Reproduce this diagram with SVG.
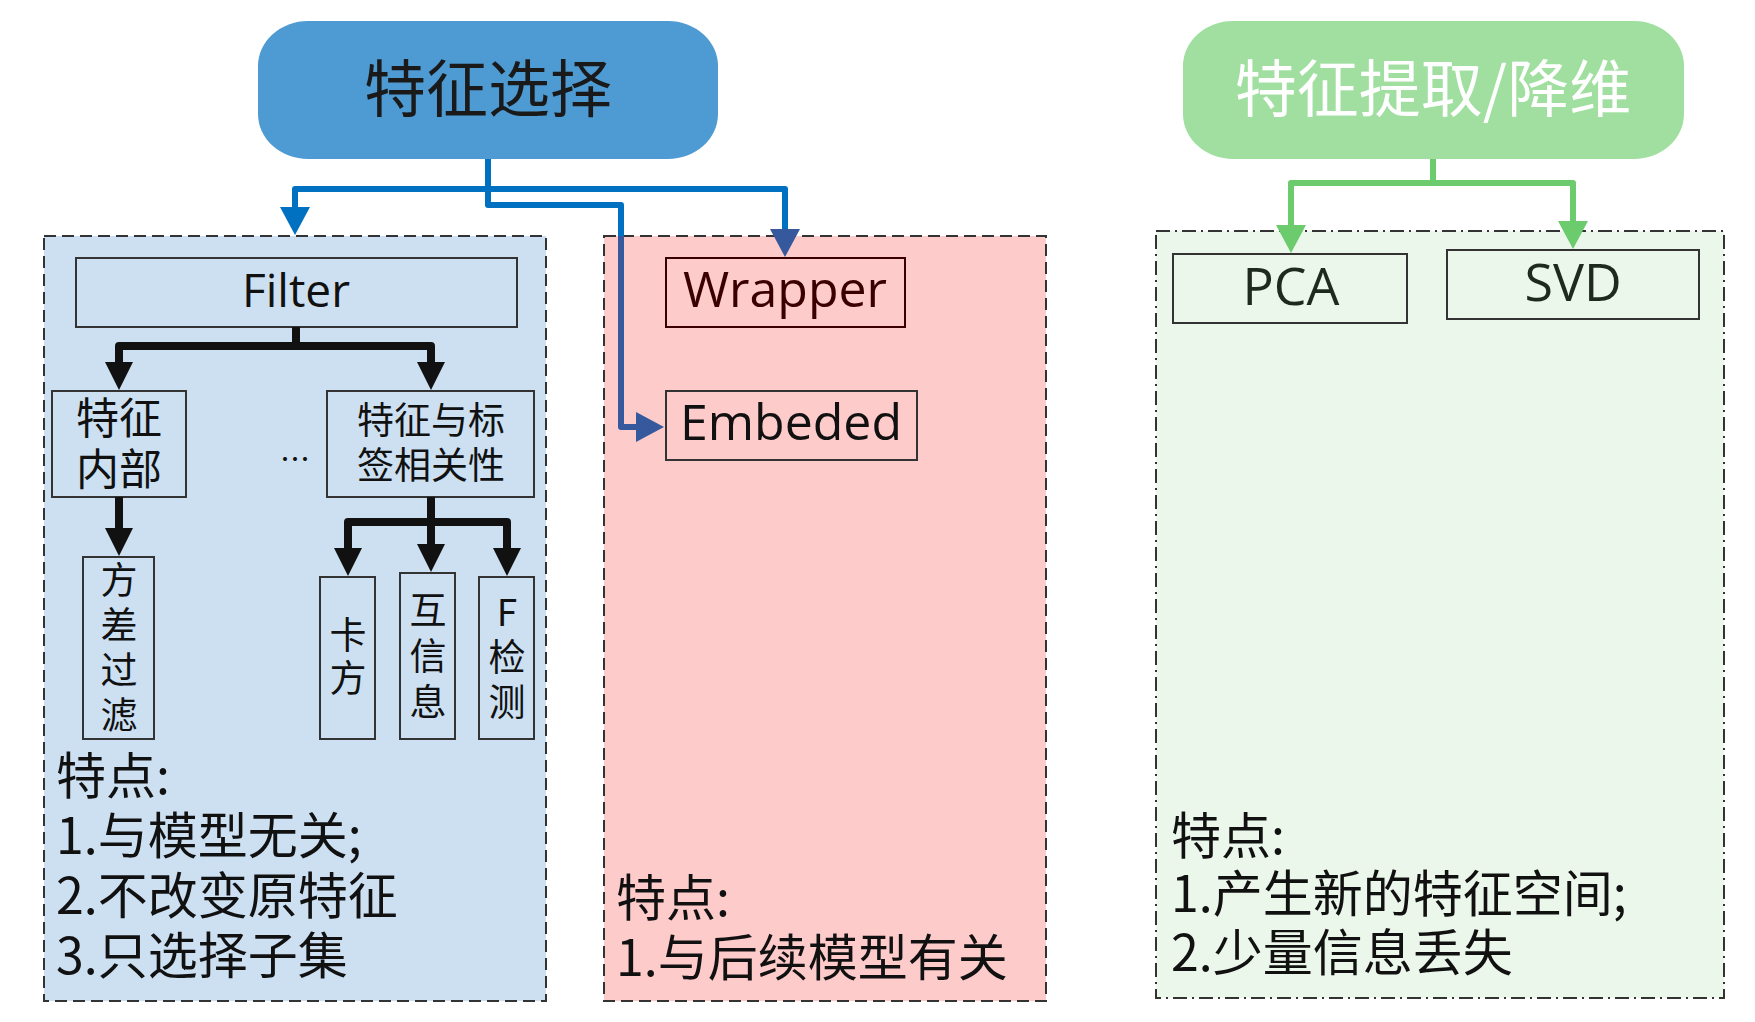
<svg xmlns="http://www.w3.org/2000/svg" width="1755" height="1022" viewBox="0 0 1755 1022">
<style>
.cjk{font-family:"Noto Sans CJK SC","Noto Sans",sans-serif;}
.lat{font-family:"Open Sans","Noto Sans","Noto Sans CJK SC",sans-serif;}
.vt{font-family:"Noto Sans CJK SC","Noto Sans",sans-serif;font-size:37px;fill:#111;writing-mode:vertical-rl;text-orientation:upright;}
.box{stroke:#333;stroke-width:2;}
.note{font-family:"Noto Sans CJK SC","Noto Sans",sans-serif;font-size:50px;fill:#111;}
.blk{fill:none;stroke:#111;stroke-width:8;stroke-linejoin:round;}
.blu{fill:none;stroke:#0070c0;stroke-width:6;stroke-linejoin:round;}
.blu2{fill:none;stroke:#35599c;stroke-width:6;stroke-linejoin:round;}
.grn{fill:none;stroke:#6ccb6c;stroke-width:6;stroke-linejoin:round;}
</style>
<defs>
<marker id="ak" markerUnits="userSpaceOnUse" markerWidth="28" markerHeight="28" viewBox="0 0 28 28" refX="0" refY="14" orient="auto"><path d="M0,0 L28,14 L0,28 z" fill="#111"/></marker>
<marker id="ab" markerUnits="userSpaceOnUse" markerWidth="28" markerHeight="30" viewBox="0 0 28 30" refX="0" refY="15" orient="auto"><path d="M0,0 L28,15 L0,30 z" fill="#0070c0"/></marker>
<marker id="ad" markerUnits="userSpaceOnUse" markerWidth="28" markerHeight="30" viewBox="0 0 28 30" refX="0" refY="15" orient="auto"><path d="M0,0 L28,15 L0,30 z" fill="#35599c"/></marker>
<marker id="ag" markerUnits="userSpaceOnUse" markerWidth="28" markerHeight="30" viewBox="0 0 28 30" refX="0" refY="15" orient="auto"><path d="M0,0 L28,15 L0,30 z" fill="#6ccb6c"/></marker>
</defs>

<g id="container-filter">
<rect x="44" y="236" width="502" height="765" fill="#cce0f2" stroke="#333" stroke-width="2" stroke-dasharray="12 6"/>
<text class="note"><tspan x="56" y="794">特点:</tspan><tspan x="56" y="854">1.与模型无关;</tspan><tspan x="56" y="914">2.不改变原特征</tspan><tspan x="56" y="974">3.只选择子集</tspan></text>
</g>
<g id="container-wrapper">
<rect x="604" y="236" width="442" height="765" fill="#fecbcb" stroke="#333" stroke-width="2" stroke-dasharray="12 6"/>
<text class="note"><tspan x="616" y="916">特点:</tspan><tspan x="616" y="976">1.与后续模型有关</tspan></text>
</g>
<g id="container-extract">
<rect x="1156" y="231" width="568" height="767" fill="#ecf7ec" stroke="#333" stroke-width="2" stroke-dasharray="14 5 2 5"/>
<text class="note"><tspan x="1171" y="854">特点:</tspan><tspan x="1171" y="912">1.产生新的特征空间;</tspan><tspan x="1171" y="971">2.少量信息丢失</tspan></text>
</g>

<g id="node-feature-selection">
<rect x="258" y="21" width="460" height="138" rx="50" ry="45" fill="#4e9bd3"/>
<text class="cjk" x="488" y="112" font-size="62" text-anchor="middle" fill="#1a1a1a">特征选择</text>
</g>
<g id="node-feature-extraction">
<rect x="1183" y="21" width="501" height="138" rx="50" ry="45" fill="#a0dfa0"/>
<text class="cjk" x="1433" y="112" font-size="62" text-anchor="middle" fill="#ffffff">特征提取/降维</text>
</g>

<g id="node-filter">
<rect class="box" x="76" y="258" width="441" height="69" fill="#cce0f2"/>
<text class="lat" x="296" y="307" font-size="46" text-anchor="middle" fill="#111">Filter</text>
</g>
<g id="node-internal">
<rect class="box" x="52" y="391" width="134" height="106" fill="#cce0f2"/>
<text class="cjk" font-size="43" text-anchor="middle" fill="#111"><tspan x="119" y="434">特征</tspan><tspan x="119" y="485">内部</tspan></text>
</g>
<g id="node-label-corr">
<rect class="box" x="327" y="391" width="207" height="106" fill="#cce0f2"/>
<text class="cjk" font-size="37" text-anchor="middle" fill="#111"><tspan x="431" y="434">特征与标</tspan><tspan x="431" y="479">签相关性</tspan></text>
</g>
<g id="ellipsis">
<text class="cjk" x="295" y="470" font-size="30" text-anchor="middle" fill="#111">…</text>
</g>
<g id="node-variance">
<rect class="box" x="83" y="557" width="71" height="182" fill="#cce0f2"/>
<text class="vt" x="119" y="561" letter-spacing="8">方差过滤</text>
</g>
<g id="node-chi2">
<rect class="box" x="320" y="577" width="55" height="162" fill="#cce0f2"/>
<text class="vt" x="348" y="616" letter-spacing="6">卡方</text>
</g>
<g id="node-mi">
<rect class="box" x="400" y="573" width="55" height="166" fill="#cce0f2"/>
<text class="vt" x="428" y="591" letter-spacing="9">互信息</text>
</g>
<g id="node-ftest">
<rect class="box" x="479" y="577" width="55" height="162" fill="#cce0f2"/>
<text class="vt" x="507" y="593" letter-spacing="8">F检测</text>
</g>

<g id="node-wrapper">
<rect x="666" y="258" width="239" height="69" fill="#fecbcb" stroke="#3a0000" stroke-width="2"/>
<text class="lat" x="785" y="307" font-size="50" text-anchor="middle" fill="#3a0000">Wrapper</text>
</g>
<g id="node-embeded">
<rect class="box" x="666" y="391" width="251" height="69" fill="#fecbcb"/>
<text class="lat" x="791" y="440" font-size="50" text-anchor="middle" fill="#111">Embeded</text>
</g>

<g id="node-pca">
<rect class="box" x="1173" y="254" width="234" height="69" fill="#ecf7ec"/>
<text class="lat" x="1291" y="305" font-size="52" text-anchor="middle" fill="#1f2a1f">PCA</text>
</g>
<g id="node-svd">
<rect class="box" x="1447" y="250" width="252" height="69" fill="#ecf7ec"/>
<text class="lat" x="1573" y="301" font-size="52" text-anchor="middle" fill="#1f2a1f">SVD</text>
</g>

<g id="connectors">
<path class="blu" d="M488,159 V189 H295 V207" marker-end="url(#ab)"/>
<path class="blu" d="M488,189 H785 V229" marker-end="url(#ad)"/>
<path class="blu" d="M488,159 V205 H621 V236"/>
<path class="blu2" d="M621,236 V427 H636" marker-end="url(#ad)"/>
<path class="blk" d="M296,327 V346 H119 V362" marker-end="url(#ak)"/>
<path class="blk" d="M296,346 H431 V362" marker-end="url(#ak)"/>
<path class="blk" d="M119,497 V528" marker-end="url(#ak)"/>
<path class="blk" d="M431,497 V522 H348 V548" marker-end="url(#ak)"/>
<path class="blk" d="M431,522 V544" marker-end="url(#ak)"/>
<path class="blk" d="M431,522 H507 V548" marker-end="url(#ak)"/>
<path class="grn" d="M1433,159 V183 H1291 V225" marker-end="url(#ag)"/>
<path class="grn" d="M1433,183 H1573 V221" marker-end="url(#ag)"/>
</g>
</svg>
